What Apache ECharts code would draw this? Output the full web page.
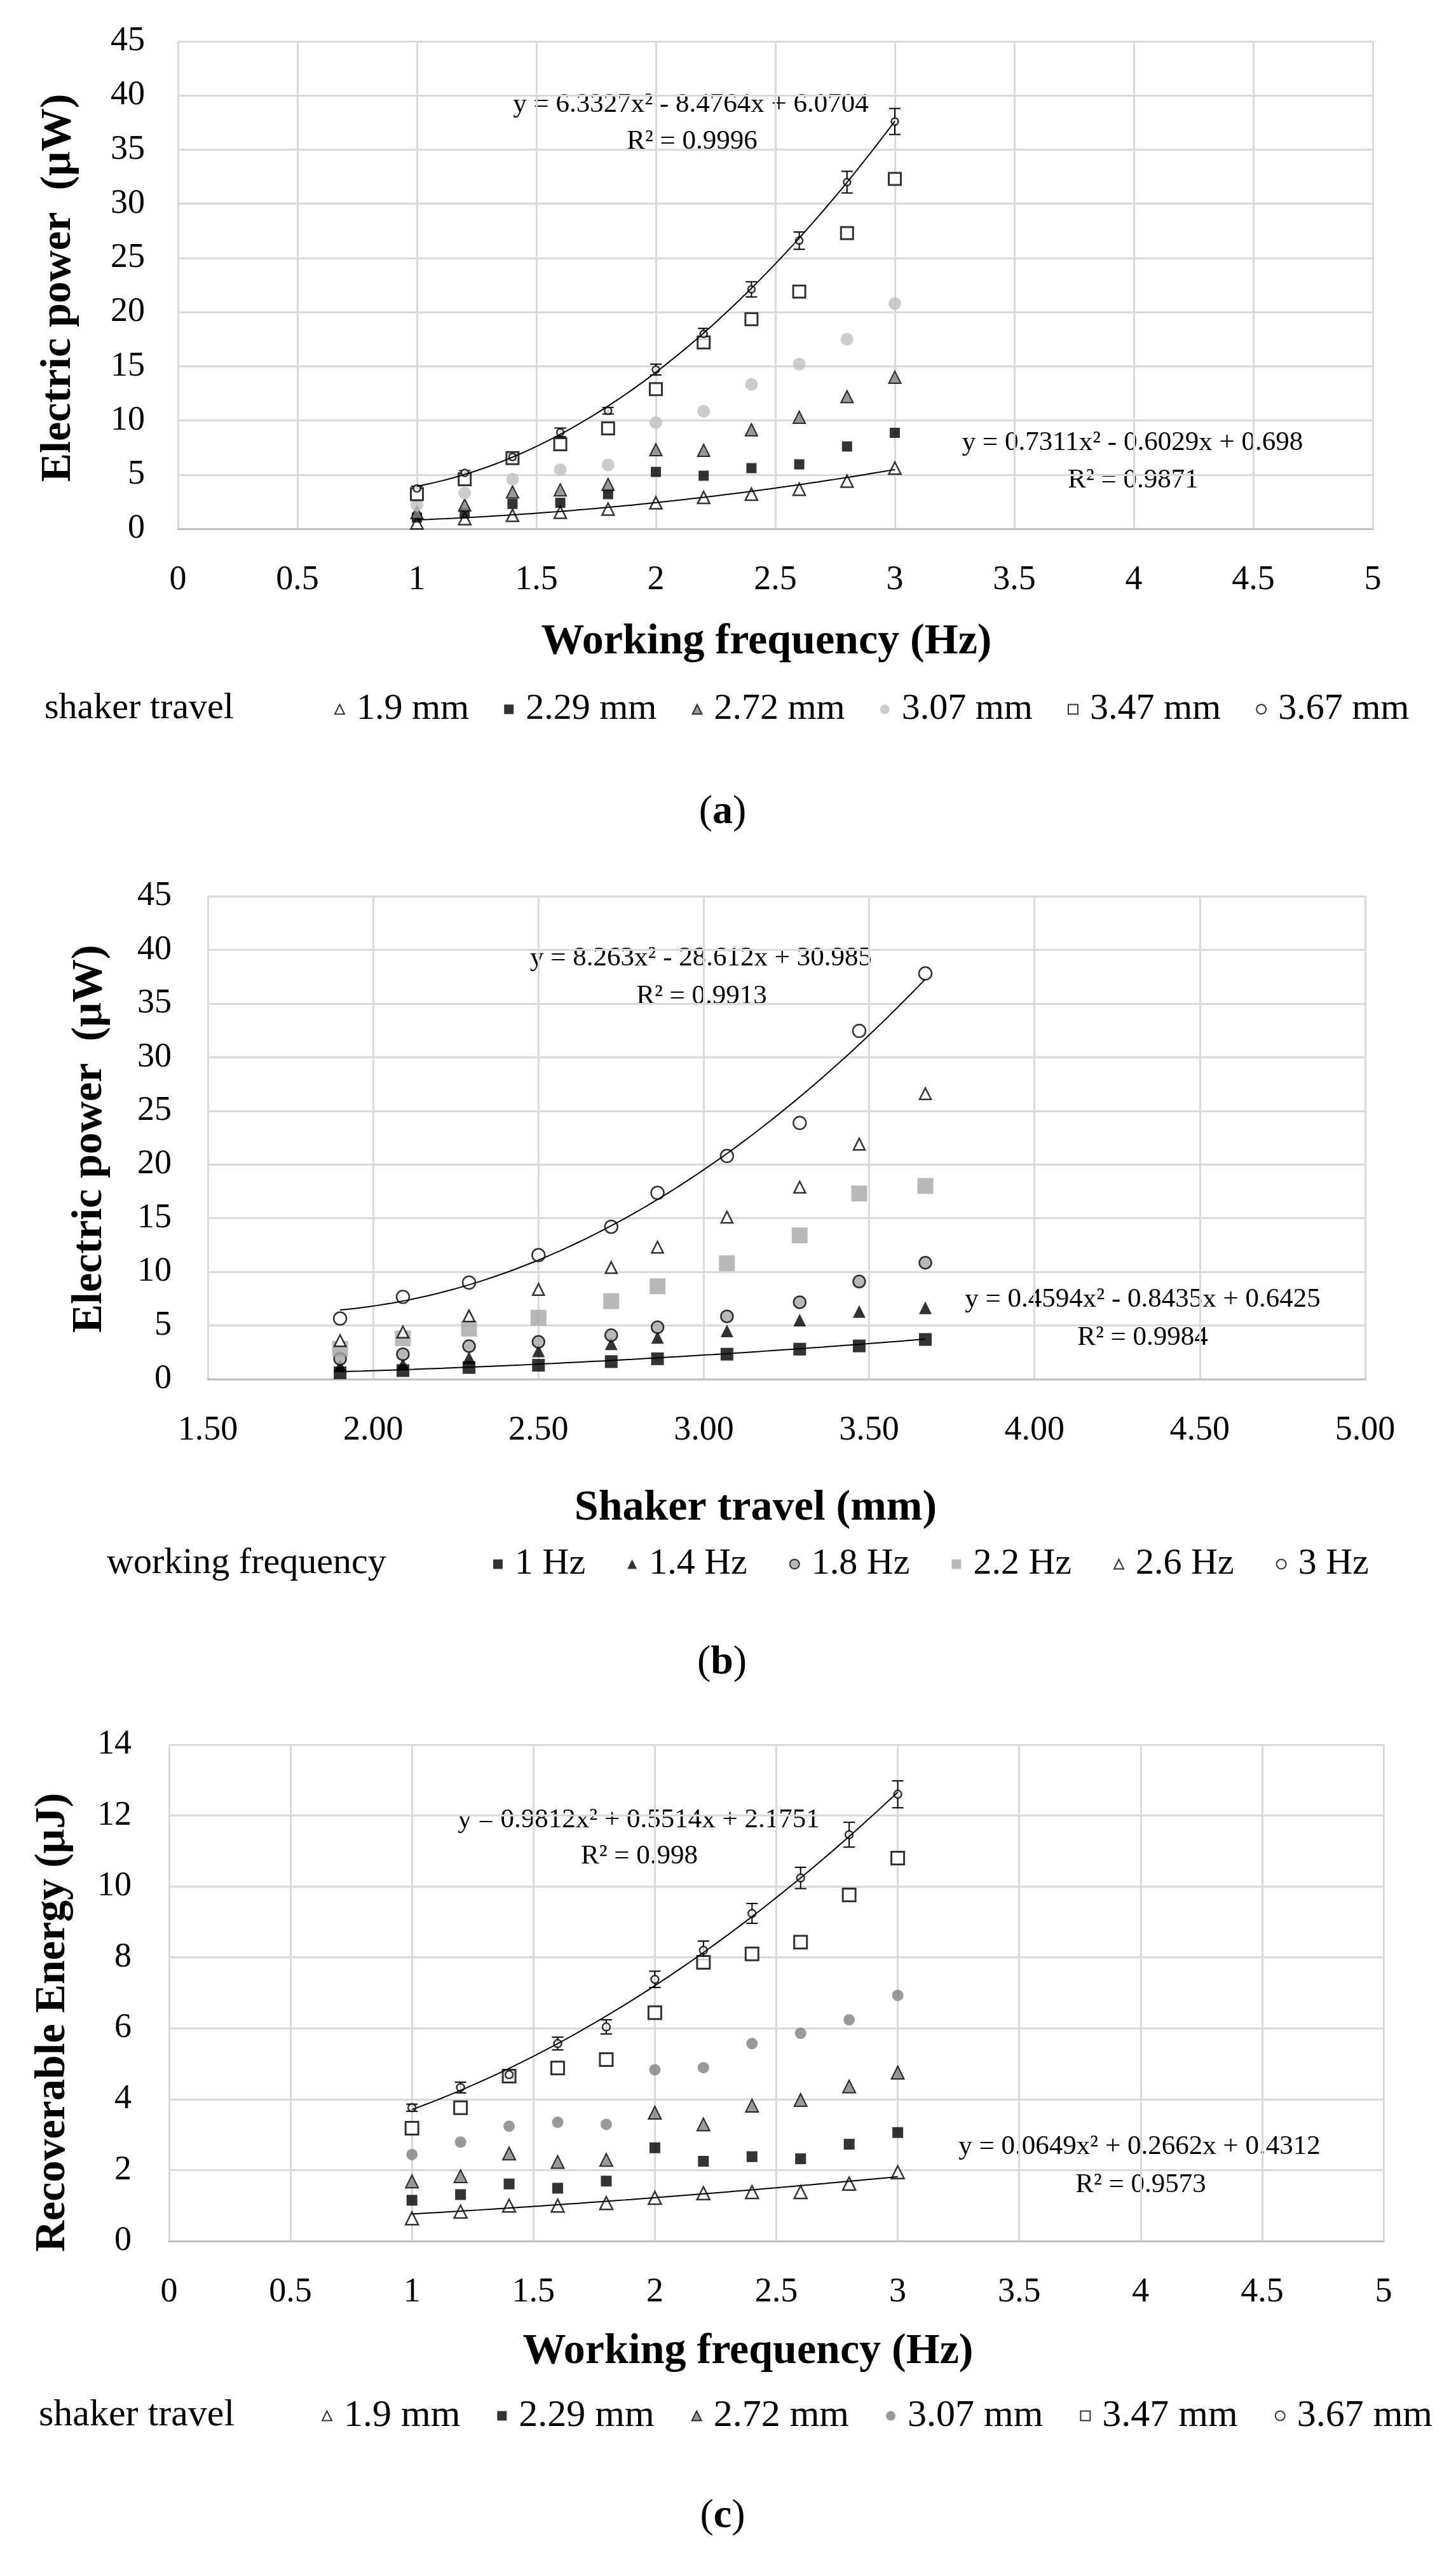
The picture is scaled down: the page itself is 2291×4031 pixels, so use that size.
<!DOCTYPE html>
<html><head><meta charset="utf-8">
<script src="https://cdn.jsdelivr.net/npm/echarts@6/dist/echarts.min.js"></script>
<style>html,body{margin:0;padding:0;background:#fff}#c{width:2291px;height:4031px}</style>
</head><body><div id="c"></div>
<script>
// ---------- DATA ----------
const freqs = [1, 1.2, 1.4, 1.6, 1.8, 2, 2.2, 2.4, 2.6, 2.8, 3];
// (a) electric power (µW) vs working frequency, per shaker travel
const a_1_9  = [0.55, 0.94, 1.24, 1.53, 1.82, 2.4, 2.9, 3.2, 3.65, 4.4, 5.6];
const a_2_29 = [1.04, 1.43, 2.3, 2.4, 3.2, 5.25, 4.9, 5.6, 5.95, 7.6, 8.86];
const a_2_72 = [1.5, 2.2, 3.4, 3.6, 4.1, 7.3, 7.25, 9.14, 10.3, 12.2, 14.0];
const a_3_07 = [2.2, 3.3, 4.57, 5.45, 5.9, 9.8, 10.85, 13.33, 15.2, 17.5, 20.8];
const a_3_47 = [3.2, 4.57, 6.53, 7.8, 9.27, 12.9, 17.2, 19.35, 21.9, 27.3, 32.3];
const a_3_67 = [3.73, 5.16, 6.63, 8.9, 10.9, 14.7, 18.0, 22.1, 26.6, 32.0, 37.6];
const a_err  = [0.2, 0.2, 0.3, 0.4, 0.3, 0.5, 0.5, 0.7, 0.8, 1.0, 1.2];
// (b) electric power (µW) vs shaker travel, per working frequency
const travels = [1.9, 2.09, 2.29, 2.5, 2.72, 2.86, 3.07, 3.29, 3.47, 3.67];
const b_1   = [0.6, 0.8, 1.09, 1.3, 1.64, 1.9, 2.33, 2.8, 3.1, 3.7];
const b_1_4 = [1.25, 1.4, 2.0, 2.63, 3.3, 3.9, 4.5, 5.5, 6.3, 6.65];
const b_1_8 = [1.9, 2.33, 3.08, 3.48, 4.1, 4.84, 5.85, 7.17, 9.1, 10.85];
const b_2_2 = [2.83, 3.8, 4.7, 5.73, 7.27, 8.66, 10.8, 13.4, 17.3, 18.0];
const b_2_6 = [3.6, 4.4, 5.9, 8.36, 10.4, 12.3, 15.1, 17.9, 21.9, 26.6];
const b_3   = [5.65, 7.67, 9.0, 11.56, 14.2, 17.36, 20.8, 23.87, 32.45, 37.8];
// (c) recoverable energy (µJ) vs working frequency, per shaker travel
const c_1_9  = [0.64, 0.83, 1.0, 1.0, 1.07, 1.22, 1.35, 1.38, 1.38, 1.62, 1.94];
const c_2_29 = [1.15, 1.31, 1.61, 1.49, 1.69, 2.63, 2.25, 2.38, 2.32, 2.73, 3.06];
const c_2_72 = [1.68, 1.83, 2.47, 2.23, 2.29, 3.62, 3.29, 3.82, 3.98, 4.36, 4.75];
const c_3_07 = [2.44, 2.79, 3.24, 3.35, 3.29, 4.83, 4.89, 5.57, 5.86, 6.24, 6.93];
const c_3_47 = [3.18, 3.76, 4.65, 4.88, 5.12, 6.44, 7.86, 8.1, 8.43, 9.76, 10.8];
const c_3_67 = [3.76, 4.33, 4.69, 5.57, 6.04, 7.38, 8.2, 9.24, 10.24, 11.46, 12.6];
const c_err  = [0.1, 0.15, 0.08, 0.18, 0.2, 0.23, 0.26, 0.28, 0.3, 0.35, 0.38];
// trendline coefficients shown on the chart [a, b, c] for y = a x^2 + b x + c
const trendA_hi = [6.3327, -8.4764, 6.0704];
const trendA_lo = [0.7311, -0.6029, 0.698];
const trendB_hi = [8.263, -28.612, 30.985];
const trendB_lo = [0.4594, -0.8435, 0.6425];
const trendC_hi = [0.9812, 0.5514, 2.1751];
const trendC_lo = [0.0649, 0.2662, 0.4312];
// legend names and tick labels
const travelNames = ['1.9 mm', '2.29 mm', '2.72 mm', '3.07 mm', '3.47 mm', '3.67 mm'];
const freqNames = ['1 Hz', '1.4 Hz', '1.8 Hz', '2.2 Hz', '2.6 Hz', '3 Hz'];
const xTicksA = ['0', '0.5', '1', '1.5', '2', '2.5', '3', '3.5', '4', '4.5', '5'];
const xTicksB = ['1.50', '2.00', '2.50', '3.00', '3.50', '4.00', '4.50', '5.00'];
const yTicksAB = ['0', '5', '10', '15', '20', '25', '30', '35', '40', '45'];
const yTicksC = ['0', '2', '4', '6', '8', '10', '12', '14'];

// ---------- CHART ----------
const FF = '"Liberation Serif", "Times New Roman", serif';
const GRID = '#d9d9d9';

function pairs(xs, ys) { return xs.map((x, i) => [x, ys[i]]); }
function sc(name, gi, xs, ys, symbol, size, style) {
  return { type: 'scatter', name, xAxisIndex: gi, yAxisIndex: gi, data: pairs(xs, ys),
    symbol, symbolSize: size, itemStyle: style, emphasis: { disabled: true }, z: 2 };
}
function trend(coef, x0, x1, gi) {
  const pts = [];
  for (let k = 0; k <= 80; k++) {
    const x = x0 + (x1 - x0) * k / 80;
    pts.push([x, coef[0] * x * x + coef[1] * x + coef[2]]);
  }
  return { type: 'line', data: pts, xAxisIndex: gi, yAxisIndex: gi, symbol: 'none', showSymbol: false,
    lineStyle: { color: '#000', width: 2 }, silent: true, z: 3, emphasis: { disabled: true } };
}
function errBars(gi, xs, ys, es) {
  return { type: 'custom', xAxisIndex: gi, yAxisIndex: gi, silent: true, z: 2,
    data: xs.map((x, i) => [x, ys[i] - es[i], ys[i] + es[i]]),
    encode: { x: 0, y: [1, 2] },
    renderItem: function (params, api) {
      const x = api.value(0);
      const p1 = api.coord([x, api.value(2)]);
      const p2 = api.coord([x, api.value(1)]);
      const w = 9, st = { stroke: '#000', lineWidth: 2 };
      return { type: 'group', children: [
        { type: 'line', shape: { x1: p1[0], y1: p1[1], x2: p2[0], y2: p2[1] }, style: st },
        { type: 'line', shape: { x1: p1[0] - w, y1: p1[1], x2: p1[0] + w, y2: p1[1] }, style: st },
        { type: 'line', shape: { x1: p2[0] - w, y1: p2[1], x2: p2[0] + w, y2: p2[1] }, style: st }
      ] };
    } };
}
const openS = (bw) => ({ color: '#fff', borderColor: '#000', borderWidth: bw });

function xAxis(gi, min, max, ticks, labelFn) {
  return { type: 'value', gridIndex: gi, min, max, interval: 0.5,
    axisLine: { show: true, onZero: false, lineStyle: { color: '#bfbfbf', width: 3 } },
    axisTick: { show: false },
    splitLine: { show: true, lineStyle: { color: GRID, width: 3 } },
    axisLabel: { fontFamily: FF, fontSize: 54, color: '#000', margin: 54, lineHeight: 54, formatter: labelFn } };
}
function yAxis(gi, max, interval, ticks, margin) {
  return { type: 'value', gridIndex: gi, min: 0, max, interval,
    axisLine: { show: false }, axisTick: { show: false },
    splitLine: { show: true, lineStyle: { color: GRID, width: 3 } },
    axisLabel: { fontFamily: FF, fontSize: 54, color: '#000', margin, formatter: v => ticks[Math.round(v / interval)] } };
}

function txt(x, y, text, size, opts) {
  opts = opts || {};
  return { type: 'text', x, y, rotation: opts.rot || 0, silent: true,
    style: { text, fill: '#000', font: (opts.bold ? 'bold ' : '') + size + 'px ' + FF,
      textAlign: opts.align || 'center', align: opts.align || 'center',
      textVerticalAlign: 'middle', verticalAlign: 'middle' } };
}
function panelLabel(x, y, letter) {
  return { type: 'text', x, y, silent: true,
    style: { text: '{p|(}{b|' + letter + '}{p|)}', align: 'center', verticalAlign: 'middle',
      textAlign: 'center', textVerticalAlign: 'middle',
      rich: { p: { fontSize: 64, fontFamily: FF, fill: '#000', color: '#000' },
              b: { fontSize: 64, fontFamily: FF, fontWeight: 'bold', fill: '#000', color: '#000' } } } };
}

const series = [
  // panel (a)
  sc('1.9 mm', 0, freqs, a_1_9, 'triangle', 19, openS(2.5)),
  sc('2.29 mm', 0, freqs, a_2_29, 'rect', 16, { color: '#000' }),
  sc('2.72 mm', 0, freqs, a_2_72, 'triangle', 19, { color: '#7f7f7f', borderColor: '#000', borderWidth: 2 }),
  sc('3.07 mm', 0, freqs, a_3_07, 'circle', 20, { color: '#bfbfbf' }),
  sc('3.47 mm', 0, freqs, a_3_47, 'rect', 19, openS(3)),
  errBars(0, freqs, a_3_67, a_err),
  sc('3.67 mm', 0, freqs, a_3_67, 'circle', 11, openS(2.5)),
  trend(trendA_hi, 1, 3, 0),
  trend(trendA_lo, 1, 3, 0),
  // panel (b)
  sc('1 Hz', 1, travels, b_1, 'rect', 20, { color: '#000' }),
  sc('1.4 Hz', 1, travels, b_1_4, 'triangle', 20, { color: '#000' }),
  sc('1.8 Hz', 1, travels, b_1_8, 'circle', 19, { color: '#a6a6a6', borderColor: '#000', borderWidth: 2.5 }),
  sc('2.2 Hz', 1, travels, b_2_2, 'rect', 25, { color: '#a6a6a6' }),
  sc('2.6 Hz', 1, travels, b_2_6, 'triangle', 18, openS(2.5)),
  sc('3 Hz', 1, travels, b_3, 'circle', 20, openS(2.5)),
  trend(trendB_hi, 1.9, 3.67, 1),
  trend(trendB_lo, 1.9, 3.67, 1),
  // panel (c)
  sc('c:1.9 mm', 2, freqs, c_1_9, 'triangle', 20, openS(2.5)),
  sc('c:2.29 mm', 2, freqs, c_2_29, 'rect', 17, { color: '#000' }),
  sc('c:2.72 mm', 2, freqs, c_2_72, 'triangle', 20, { color: '#7f7f7f', borderColor: '#000', borderWidth: 2 }),
  sc('c:3.07 mm', 2, freqs, c_3_07, 'circle', 18, { color: '#808080' }),
  sc('c:3.47 mm', 2, freqs, c_3_47, 'rect', 20, openS(3)),
  errBars(2, freqs, c_3_67, c_err),
  sc('c:3.67 mm', 2, freqs, c_3_67, 'circle', 12, openS(2.5)),
  trend(trendC_hi, 1, 3, 2),
  trend(trendC_lo, 1, 3, 2)
];

const legText = (size) => ({ fontFamily: FF, fontSize: size, color: '#000', lineHeight: 60, padding: [0, 0, 0, 14] });

const option = {
  animation: false,
  backgroundColor: '#fff',
  grid: [
    { left: 280, top: 65, width: 1880, height: 767 },
    { left: 327, top: 1410, width: 1821, height: 760 },
    { left: 266, top: 2745, width: 1911, height: 781 }
  ],
  xAxis: [
    xAxis(0, 0, 5, xTicksA, v => xTicksA[Math.round(v / 0.5)]),
    xAxis(1, 1.5, 5, xTicksB, v => xTicksB[Math.round((v - 1.5) / 0.5)]),
    xAxis(2, 0, 5, xTicksA, v => xTicksA[Math.round(v / 0.5)])
  ],
  yAxis: [
    yAxis(0, 45, 5, yTicksAB, 52),
    yAxis(1, 45, 5, yTicksAB, 57),
    yAxis(2, 14, 2, yTicksC, 59)
  ],
  legend: [
    { left: 521, top: 1081, orient: 'horizontal', itemGap: 55, itemWidth: 15, itemHeight: 15,
      data: travelNames, textStyle: legText(58), selectedMode: false },
    { left: 771, top: 2426, orient: 'horizontal', itemGap: 66, itemWidth: 15, itemHeight: 15,
      data: freqNames, textStyle: legText(58), selectedMode: false },
    { left: 501, top: 3766, orient: 'horizontal', itemGap: 58, itemWidth: 15, itemHeight: 15,
      data: travelNames.map(n => 'c:' + n), formatter: n => n.replace(/^c:/, ''),
      textStyle: legText(60), selectedMode: false }
  ],
  graphic: [
    // panel (a)
    txt(1087, 165, 'y = 6.3327x² - 8.4764x + 6.0704', 43),
    txt(1089, 223, 'R² = 0.9996', 43),
    txt(1782, 697, 'y = 0.7311x² - 0.6029x + 0.698', 43),
    txt(1783, 756, 'R² = 0.9871', 43),
    txt(1206, 1010, 'Working frequency (Hz)', 68, { bold: true }),
    txt(92, 453, 'Electric power  (μW)', 68, { bold: true, rot: Math.PI / 2 }),
    txt(70, 1115, 'shaker travel', 58, { align: 'left' }),
    panelLabel(1137, 1278, 'a'),
    // panel (b)
    txt(1103, 1508, 'y = 8.263x² - 28.612x + 30.985', 43),
    txt(1104, 1568, 'R² = 0.9913', 43),
    txt(1798, 2045, 'y = 0.4594x² - 0.8435x + 0.6425', 43),
    txt(1798, 2105, 'R² = 0.9984', 43),
    txt(1189, 2373, 'Shaker travel (mm)', 68, { bold: true }),
    txt(141, 1792, 'Electric power  (μW)', 68, { bold: true, rot: Math.PI / 2 }),
    txt(168, 2460, 'working frequency', 58, { align: 'left' }),
    panelLabel(1136, 2616, 'b'),
    // panel (c)
    txt(1005, 2864, 'y = 0.9812x² + 0.5514x + 2.1751', 43),
    txt(1006, 2921, 'R² = 0.998', 43),
    txt(1793, 3378, 'y = 0.0649x² + 0.2662x + 0.4312', 43),
    txt(1795, 3438, 'R² = 0.9573', 43),
    txt(1177, 3700, 'Working frequency (Hz)', 68, { bold: true }),
    txt(83, 3182, 'Recoverable Energy (μJ)', 68, { bold: true, rot: Math.PI / 2 }),
    txt(61, 3800, 'shaker travel', 60, { align: 'left' }),
    panelLabel(1137, 3959, 'c')
  ],
  series
};

const chart = echarts.init(document.getElementById('c'), null, { renderer: 'canvas', width: 2291, height: 4031 });
chart.setOption(option);
</script>
</body></html>
